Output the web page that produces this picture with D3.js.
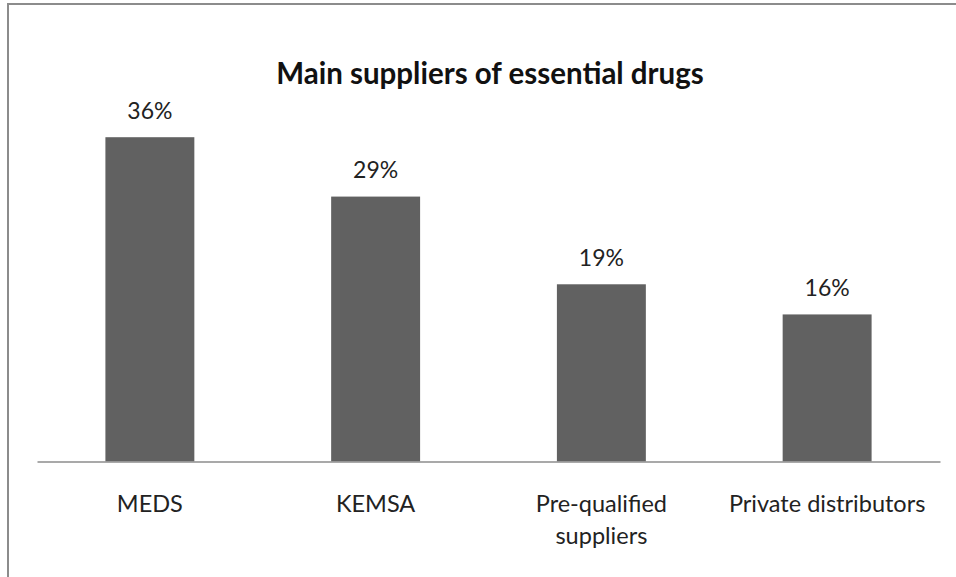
<!DOCTYPE html>
<html>
<head>
<meta charset="utf-8">
<script src="https://cdn.jsdelivr.net/npm/d3@7"></script>
<style>
  html, body { margin: 0; padding: 0; background: #fff; }
  svg { display: block; }
  text { font-family: Lato, "Open Sans", sans-serif; fill: #222; }
</style>
</head>
<body>
<svg id="chart" width="956" height="577"></svg>
<script>
const title = "Main suppliers of essential drugs";
const categories = ["MEDS", "KEMSA", "Pre-qualified suppliers", "Private distributors"];
const categoryLines = [["MEDS"], ["KEMSA"], ["Pre-qualified", "suppliers"], ["Private distributors"]];
const values = [35.5, 29.0, 19.4, 16.1];
const valueLabels = ["36%", "29%", "19%", "16%"];

const svg = d3.select("#chart");

// outer frame (extends beyond the visible area at right and bottom)
svg.append("rect")
  .attr("x", 8).attr("y", 4)
  .attr("width", 1000).attr("height", 700)
  .attr("fill", "#fff")
  .attr("stroke", "#8c8c8c")
  .attr("stroke-width", 2);

const baseline = 461.5;
const x = d3.scaleBand()
  .domain(categories)
  .range([37, 940])
  .paddingInner(0.606)
  .paddingOuter(0.303);

const y = d3.scaleLinear()
  .domain([0, 40])
  .range([baseline, baseline - 40 * 9.135]);

// title
svg.append("text")
  .attr("x", 490)
  .attr("y", 84)
  .attr("text-anchor", "middle")
  .style("font-weight", "bold")
  .style("font-size", "29.5px")
  .style("fill", "#111")
  .text(title);

// bars
svg.append("g").selectAll("rect")
  .data(values)
  .join("rect")
  .attr("x", (d, i) => x(categories[i]))
  .attr("width", x.bandwidth())
  .attr("y", d => y(d))
  .attr("height", d => y(0) - y(d))
  .attr("fill", "#616161");

// value labels
svg.append("g").selectAll("text")
  .data(values)
  .join("text")
  .attr("x", (d, i) => x(categories[i]) + x.bandwidth() / 2)
  .attr("y", d => y(d) - 18.5)
  .attr("text-anchor", "middle")
  .style("font-size", "23px")
  .text((d, i) => valueLabels[i]);

// axis line
const axis = d3.axisBottom(x).tickSize(0).tickSizeOuter(0).tickFormat("");
const ag = svg.append("g")
  .attr("transform", `translate(0,${baseline})`)
  .call(axis);
ag.select(".domain").attr("stroke", "#8c8c8c").attr("stroke-width", 1.5);
ag.selectAll(".tick").remove();

// category labels
const lab = svg.append("g").selectAll("text")
  .data(categories)
  .join("text")
  .attr("x", d => x(d) + x.bandwidth() / 2)
  .attr("y", 512)
  .attr("text-anchor", "middle")
  .style("font-size", "23.5px");
lab.each(function(d, i) {
  const t = d3.select(this);
  categoryLines[i].forEach((line, j) => {
    t.append("tspan")
      .attr("x", x(d) + x.bandwidth() / 2)
      .attr("dy", j === 0 ? 0 : 32)
      .text(line);
  });
});
</script>
</body>
</html>
